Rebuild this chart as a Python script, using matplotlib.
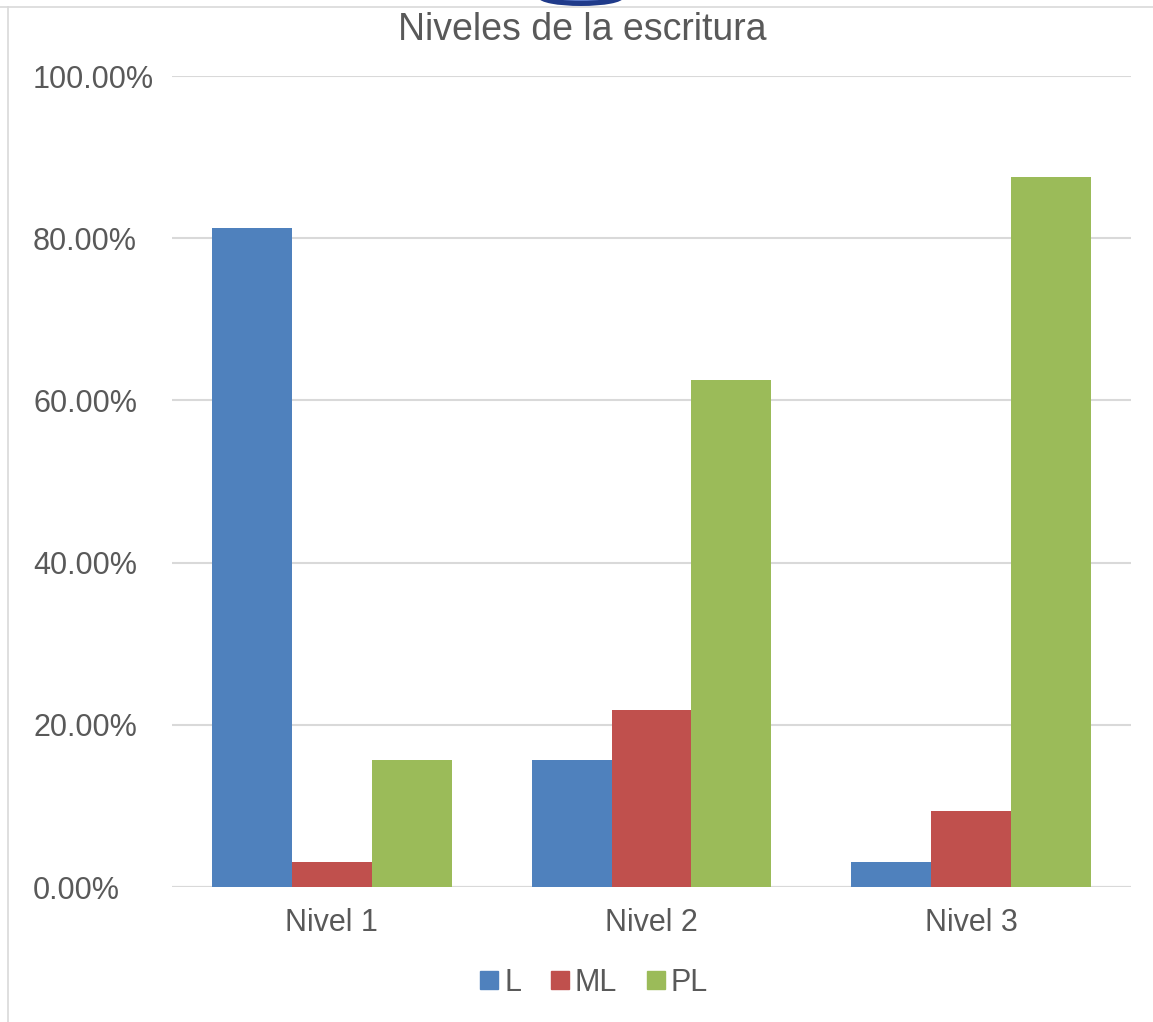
import matplotlib
matplotlib.use("Agg")
import matplotlib.pyplot as plt
import numpy as np
from matplotlib.patches import Ellipse
from matplotlib.lines import Line2D
from matplotlib.ticker import FuncFormatter

categories = ["Nivel 1", "Nivel 2", "Nivel 3"]
series_names = ["L", "ML", "PL"]
L = [81.25, 15.625, 3.125]
ML = [3.125, 21.875, 9.375]
PL = [15.625, 62.5, 87.5]
colors = ["#4F81BD", "#C0504D", "#9BBB59"]
yticks = [0, 20, 40, 60, 80, 100]

plt.rcParams['font.family'] = ['Liberation Sans', 'DejaVu Sans']

fig = plt.figure(figsize=(11.53, 10.22), dpi=100)
ax = fig.add_axes([172/1153, 1-887/1022, (1131-172)/1153, (887-76)/1022])

x = np.arange(len(categories))
w = 0.25
for i, (vals, c) in enumerate(zip([L, ML, PL], colors)):
    ax.bar(x + (i-1)*w, vals, width=w, color=c, label=series_names[i], zorder=3)

ax.set_xlim(-0.5, 2.5)
ax.set_ylim(0, 100)
ax.set_yticks(yticks)
ax.yaxis.set_major_formatter(FuncFormatter(lambda v, p: f"{v:.2f}%"))
ax.set_xticks(x)
ax.set_xticklabels(categories)
ax.grid(axis='y', color='#d9d9d9', linewidth=1.5, zorder=0)
ax.axhline(0, color='#d9d9d9', linewidth=1.5, zorder=1)
for s in ax.spines.values():
    s.set_visible(False)
ax.tick_params(axis='both', length=0, labelsize=22, colors='#595959')
ax.tick_params(axis='y', pad=100)
ax.tick_params(axis='x', pad=15)
for lab in ax.get_yticklabels():
    lab.set_horizontalalignment('left')

fig.text(582/1153, 1-30/1022, "Niveles de la escritura", ha='center', va='center',
         fontsize=27, color='#595959')

handles = [Line2D([0], [0], marker='s', linestyle='none', markersize=13.5,
                  markerfacecolor=c, markeredgecolor=c) for c in colors]
fig.legend(handles, series_names, loc='center', bbox_to_anchor=(591/1153, 1-983/1022),
           ncol=3, frameon=False, fontsize=22, handletextpad=0.0,
           columnspacing=0.75, labelcolor='#595959', handlelength=1.0)

# frame border lines
fig.add_artist(Line2D([0, 1], [1-7/1022, 1-7/1022], color='#d9d9d9', linewidth=1.2,
                      transform=fig.transFigure))
fig.add_artist(Line2D([8/1153, 8/1153], [0, 1-7/1022], color='#d9d9d9', linewidth=1.2,
                      transform=fig.transFigure))
# logo fragment at top
fig.add_artist(Ellipse((581/1153, 1+2/1022), 84/1153, 16/1022, facecolor='#1f3a8a',
                       edgecolor='none', transform=fig.transFigure))
fig.add_artist(Ellipse((581/1153, 1+4/1022), 60/1153, 10/1022, facecolor='#5a78c8',
                       edgecolor='none', transform=fig.transFigure))

fig.savefig("out.png", dpi=100, facecolor='white')
